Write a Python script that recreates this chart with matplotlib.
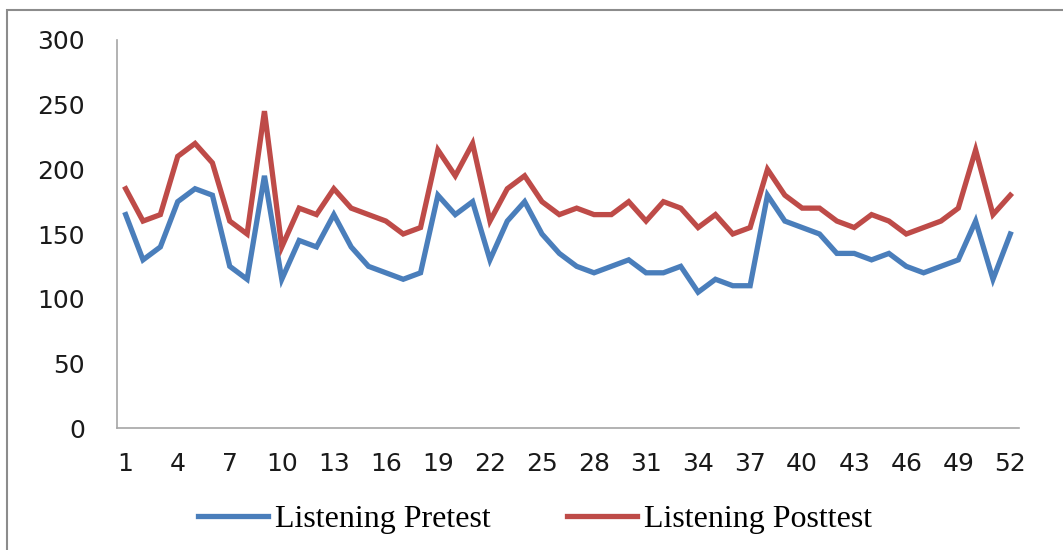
import matplotlib
matplotlib.use("Agg")
import matplotlib.pyplot as plt
from matplotlib.patches import Rectangle
from matplotlib.lines import Line2D

students = list(range(1, 53))
pretest = [165, 130, 140, 175, 185, 180, 125, 115, 195, 115,
           145, 140, 165, 140, 125, 120, 115, 120, 180, 165,
           175, 130, 160, 175, 150, 135, 125, 120, 125, 130,
           120, 120, 125, 105, 115, 110, 110, 180, 160, 155,
           150, 135, 135, 130, 135, 125, 120, 125, 130, 160,
           115, 150]
posttest = [185, 160, 165, 210, 220, 205, 160, 150, 245, 140,
            170, 165, 185, 170, 165, 160, 150, 155, 215, 195,
            220, 160, 185, 195, 175, 165, 170, 165, 165, 175,
            160, 175, 170, 155, 165, 150, 155, 200, 180, 170,
            170, 160, 155, 165, 160, 150, 155, 160, 170, 215,
            165, 180]
series_names = ["Listening Pretest", "Listening Posttest"]
xtick_labels = [str(i) for i in range(1, 53, 3)]
ytick_values = [0, 50, 100, 150, 200, 250, 300]

plt.rcParams['font.family'] = ['DejaVu Sans']

fig = plt.figure(figsize=(10.63, 5.5), dpi=100)
ax = fig.add_axes([117/1063, 1-428/550, (1019-117)/1063, (428-40)/550])

blue = '#4A7EBB'
red = '#BE4B48'
ax.plot(students, pretest, color=blue, lw=3.8, solid_joinstyle='miter', label=series_names[0])
ax.plot(students, posttest, color=red, lw=3.8, solid_joinstyle='miter', label=series_names[1])

ax.set_xlim(0.5, 52.5)
ax.set_ylim(0, 300)
ax.set_yticks(ytick_values)
ax.set_yticklabels([str(v) for v in ytick_values])
ax.set_xticks(list(range(1, 53, 3)))
ax.set_xticklabels(xtick_labels)
ax.tick_params(axis='both', length=0, labelsize=18, colors='#1a1a1a')
ax.tick_params(axis='y', pad=23)
ax.tick_params(axis='x', pad=17)
for s in ['top', 'right']:
    ax.spines[s].set_visible(False)
for s in ['left', 'bottom']:
    ax.spines[s].set_color('#A6A6A6')
    ax.spines[s].set_linewidth(1.2)

fig.legend(handles=[Line2D([], [], color=blue, lw=3.8), Line2D([], [], color=red, lw=3.8)],
           labels=series_names, loc='center', bbox_to_anchor=(535/1063, 1-519/550),
           ncol=2, frameon=False, handlelength=2.2, handletextpad=0.2,
           columnspacing=2.4, prop={'family': ['Liberation Serif', 'DejaVu Serif'], 'size': 23})

fig.patches.append(Rectangle((7/1063, -0.1), 1.2, 1 - 10/550 + 0.1, transform=fig.transFigure,
                             fill=False, edgecolor='#8C8C8C', lw=1.5))

fig.savefig('out.png', dpi=100)
